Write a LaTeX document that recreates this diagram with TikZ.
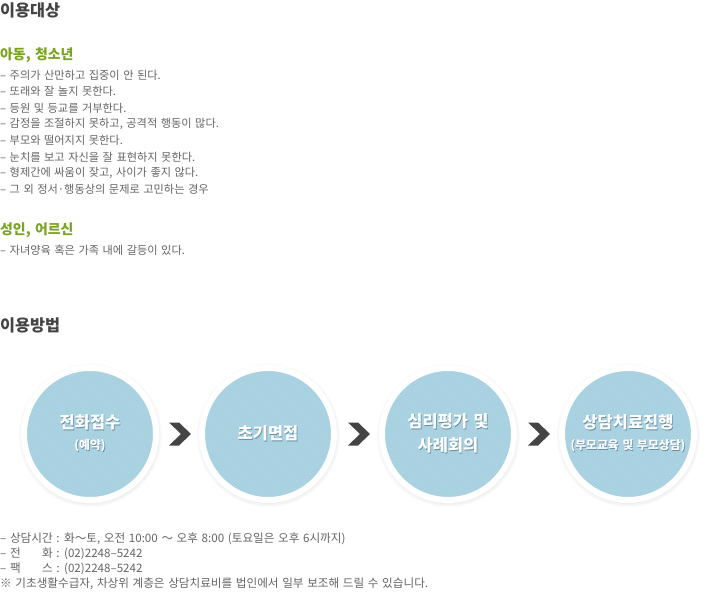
\documentclass[tikz,border=0pt]{standalone}
\usepackage{fontspec}
\setmainfont{Noto Sans CJK KR}[WordSpace=1.4]
\usepackage{calc}
\usetikzlibrary{calc,shadows,fadings}
\definecolor{headgray}{RGB}{68,68,68}
\definecolor{textgray}{RGB}{100,100,100}
\definecolor{subgreen}{RGB}{122,163,31}
\definecolor{circblue}{RGB}{164,206,223}
\definecolor{stripeblue}{RGB}{176,214,229}
\definecolor{chevgray}{RGB}{68,68,68}
\definecolor{txtshadow}{RGB}{100,142,162}

\newcommand{\shtxt}[1]{\leavevmode\rlap{\raisebox{-0.8pt}{\hspace{0.7pt}\textcolor{txtshadow}{#1}}}#1}

\tikzset{
  headtxt/.style={anchor=west, inner sep=0pt, text=headgray,
    font=\fontsize{16.3}{18}\selectfont\bfseries},
  subhead/.style={anchor=west, inner sep=0pt, text=subgreen,
    font=\fontsize{13.9}{16}\selectfont\bfseries},
  listtxt/.style={anchor=west, inner sep=0pt, text=textgray,
    font=\fontsize{11.2}{12}\selectfont},
  infotxt/.style={listtxt, font=\fontsize{11.6}{12}\selectfont},
  stepcircle/.style={circle, minimum size=132pt, inner sep=0pt,
    fill=circblue, draw=white, line width=6pt, text=white, align=center,
    font=\fontsize{16.5}{24}\selectfont\bfseries,
    circular drop shadow={shadow xshift=0pt, shadow yshift=-1pt,
      shadow scale=1.09, opacity=0.3},
    path picture={
      \foreach \k in {-150,-147,...,150}
        \draw[stripeblue, line width=0.9pt]
          ([xshift=\k pt]path picture bounding box.north west) --
          ([xshift=\k pt]path picture bounding box.south east);
    }},
  chev/.pic={
    \fill[chevgray] (-11,-11.5) -- (-1,-11.5) -- (11,0) -- (-1,11.5)
      -- (-11,11.5) -- (1,0) -- cycle;
  }
}

\begin{document}
\begin{tikzpicture}[x=1pt,y=-1pt]
  \fill[white] (0,0) rectangle (718,597);
  \useasboundingbox (0,0) rectangle (718,597);
  % target
  \node[headtxt] (head1) at (0,10) {이용대상};
  % children
  \node[subhead] (kids) at (0,55) {아동, 청소년};
  \node[listtxt] (k1) at (0,75.5) {– 주의가 산만하고 집중이 안 된다.};
  \node[listtxt] (k2) at (0,91.8) {– 또래와 잘 놀지 못한다.};
  \node[listtxt] (k3) at (0,108.1) {– 등원 및 등교를 거부한다.};
  \node[listtxt] (k4) at (0,124.4) {– 감정을 조절하지 못하고, 공격적 행동이 많다.};
  \node[listtxt] (k5) at (0,140.7) {– 부모와 떨어지지 못한다.};
  \node[listtxt] (k6) at (0,157) {– 눈치를 보고 자신을 잘 표현하지 못한다.};
  \node[listtxt] (k7) at (0,173.3) {– 형제간에 싸움이 잦고, 사이가 좋지 않다.};
  \node[listtxt] (k8) at (0,189.6) {– 그 외 정서·행동상의 문제로 고민하는 경우};
  % adults
  \node[subhead] (adults) at (0,230) {성인, 어르신};
  \node[listtxt] (a1) at (0,250) {– 자녀양육 혹은 가족 내에 갈등이 있다.};
  % how to use
  \node[headtxt] (head2) at (0,325) {이용방법};
  % steps
  \node[stepcircle] (c1) at (90,434) {\shtxt{전화접수}\\[-3pt]{\fontsize{11.8}{13}\selectfont\shtxt{(예약)}}};
  \node[stepcircle] (c2) at (268,434) {\shtxt{초기면접}};
  \node[stepcircle] (c3) at (448,434) {\shtxt{심리평가 및}\\\shtxt{사례회의}};
  \node[stepcircle] (c4) at (628,434) {\shtxt{상담치료진행}\\[-3pt]{\fontsize{11.8}{13}\selectfont\shtxt{(부모교육 및 부모상담)}}};
  \foreach \a/\b in {c1/c2,c2/c3,c3/c4}
    \pic at ($(\a)!0.5!(\b)+(1,0)$) {chev};
  % info
  \node[infotxt] (i1) at (0,538.5) {– 상담시간 : 화～토, 오전 10:00 ～ 오후 8:00 (토요일은 오후 6시까지)};
  \node[infotxt] (i2) at (0,553.5) {– \makebox[\widthof{상담시간}][s]{전\hfill 화} : (02)2248–5242};
  \node[infotxt] (i3) at (0,568.5) {– \makebox[\widthof{상담시간}][s]{팩\hfill 스} : (02)2248–5242};
  \node[infotxt] (i4) at (0,583.5) {※ 기초생활수급자, 차상위 계층은 상담치료비를 법인에서 일부 보조해 드릴 수 있습니다.};
\end{tikzpicture}
\end{document}
